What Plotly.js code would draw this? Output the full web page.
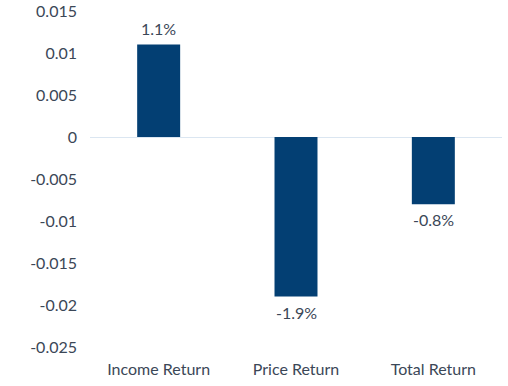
<!DOCTYPE html>
<html><head><meta charset="utf-8">
<script src="https://cdn.plot.ly/plotly-3.0.1.min.js"></script>
<style>html,body{margin:0;padding:0;background:#fff;}#chart{width:508px;height:386px;}</style>
</head><body><div id="chart"></div>
<script>
const categories = ['Income Return', 'Price Return', 'Total Return'];
const values = [0.011, -0.019, -0.008];
const tickValues = [0.015, 0.01, 0.005, 0, -0.005, -0.01, -0.015, -0.02, -0.025];
const tickLabels = ['0.015', '0.01', '0.005', '0', '-0.005', '-0.01', '-0.015', '-0.02', '-0.025'];
const labels = values.map(v => (v * 100).toFixed(1) + '%');

const textColor = '#3b4757';
const fnt = {family: 'Lato, sans-serif', size: 16, color: textColor};

const annotations = categories.map((c, i) => ({
  x: c, y: values[i], xref: 'x', yref: 'y', text: labels[i], showarrow: false,
  yanchor: values[i] >= 0 ? 'bottom' : 'top', yshift: values[i] >= 0 ? 5 : -4,
  font: fnt
}));

Plotly.newPlot('chart', [{
  type: 'bar', x: categories, y: values,
  marker: {color: '#033f73'}, hoverinfo: 'none'
}], {
  width: 508, height: 386,
  margin: {l: 90, r: 6, t: 11, b: 38.5},
  paper_bgcolor: '#fff', plot_bgcolor: '#fff',
  bargap: 0.687, showlegend: false,
  font: fnt, annotations: annotations,
  xaxis: {showline: false, showgrid: false, ticks: '', tickfont: fnt, ticklabelstandoff: 11},
  yaxis: {range: [-0.025, 0.015], tickvals: tickValues, ticktext: tickLabels,
    showgrid: false, zeroline: true, zerolinecolor: '#dbe6f1', zerolinewidth: 1,
    showline: false, ticks: '', tickfont: fnt, ticklabelstandoff: 12}
}, {displayModeBar: false, staticPlot: true});
</script></body></html>
